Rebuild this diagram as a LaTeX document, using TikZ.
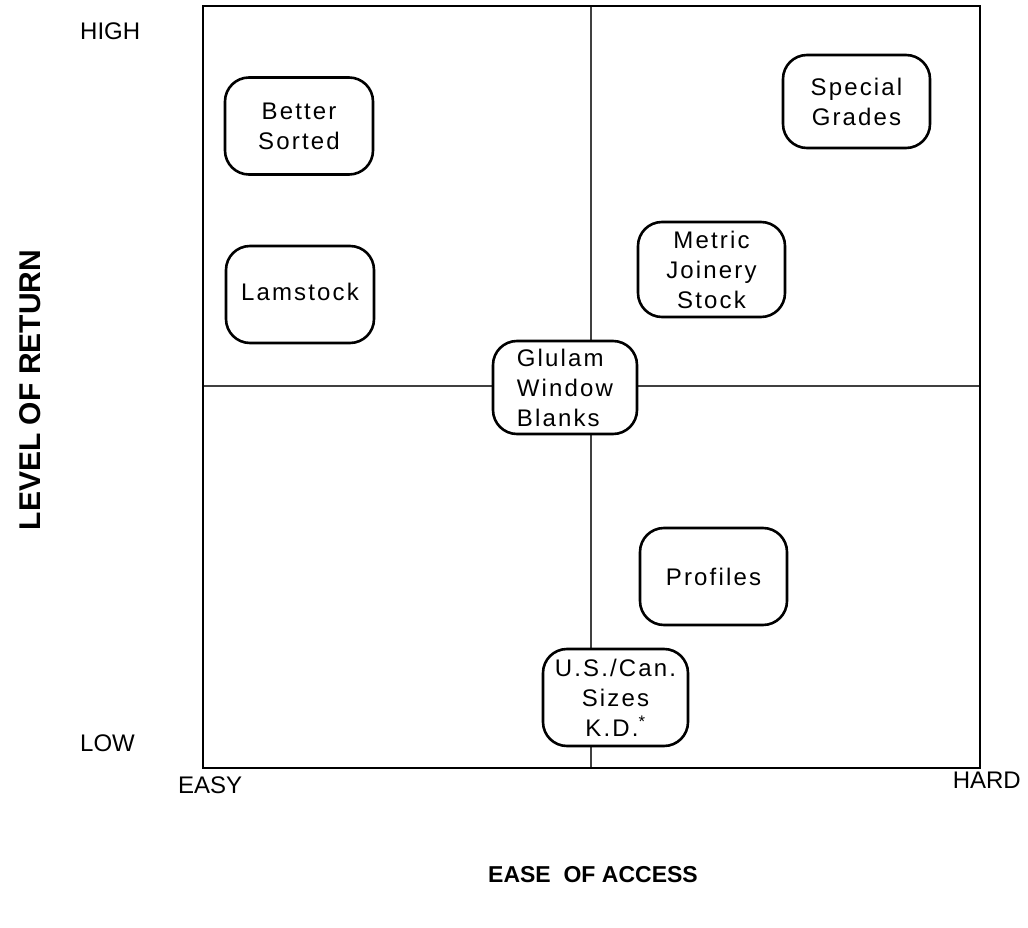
\documentclass[tikz,border=0pt]{standalone}
\usepackage{fontspec}
\setmainfont{Liberation Sans}
\newfontfamily\boxfont[LetterSpace=9]{Liberation Sans}
\begin{document}
\begin{tikzpicture}[x=1pt,y=-1pt,
  item/.style={draw=black, line width=2.6pt, rounded corners=24pt, fill=white,
    align=center, inner sep=0pt, font=\boxfont\fontsize{24}{30}\selectfont},
  divider/.style={draw=black!75, line width=1.3pt},
  frame/.style={draw=black, line width=2.8pt},
  axislabel/.style={font=\fontsize{24}{28}\selectfont, inner sep=0pt},
  axistitle/.style={font=\bfseries\fontsize{23}{28}\selectfont, inner sep=0pt}]
  \useasboundingbox (0,0) rectangle (1028,928);

  % quadrant grid
  \coordinate (fTL) at (203,6);
  \coordinate (fBR) at (980,768);
  \coordinate (vTop) at (591,6);
  \coordinate (vBot) at (591,768);
  \coordinate (hL) at (203,386);
  \coordinate (hR) at (980,386);
  \draw[divider] (vTop) -- (vBot);
  \draw[divider] (hL) -- (hR);
  \draw[frame] (fTL) rectangle (fBR);

  % products
  \node[item, minimum width=148pt, minimum height=97pt] (better) at (299,126) {Better\\Sorted};
  \node[item, minimum width=148pt, minimum height=97pt] (lam) at (300,294.5) {\raisebox{5pt}{Lamstock}};
  \node[item, minimum width=147pt, minimum height=93pt] (special) at (856.5,101.5) {Special\\Grades};
  \node[item, minimum width=147pt, minimum height=95pt] (metric) at (711.5,269.5) {Metric\\Joinery\\Stock};
  \node[item, minimum width=144pt, minimum height=93pt, align=left] (glulam) at (565,387.5) {Glulam\\Window\\Blanks};
  \node[item, minimum width=147pt, minimum height=97pt] (profiles) at (713.5,576.5) {Profiles};
  \node[item, minimum width=145pt, minimum height=97pt] (us) at (615.5,697.5) {U.S./Can.\\Sizes\\K.D.\textsuperscript{*}};

  % axis labels
  \node[axislabel, anchor=west] (high) at (80,31) {HIGH};
  \node[axislabel, anchor=west] (low) at (80,743) {LOW};
  \node[axislabel, anchor=west] (easy) at (178,785) {EASY};
  \node[axislabel, anchor=east] (hard) at (1021,780) {HARD};
  \node[axistitle] (xtitle) at (593,875) {EASE\ \ OF ACCESS};
  \node[axistitle, rotate=90, font=\bfseries\fontsize{30}{34}\selectfont] (ytitle) at (30,390) {LEVEL OF RETURN};
\end{tikzpicture}
\end{document}
